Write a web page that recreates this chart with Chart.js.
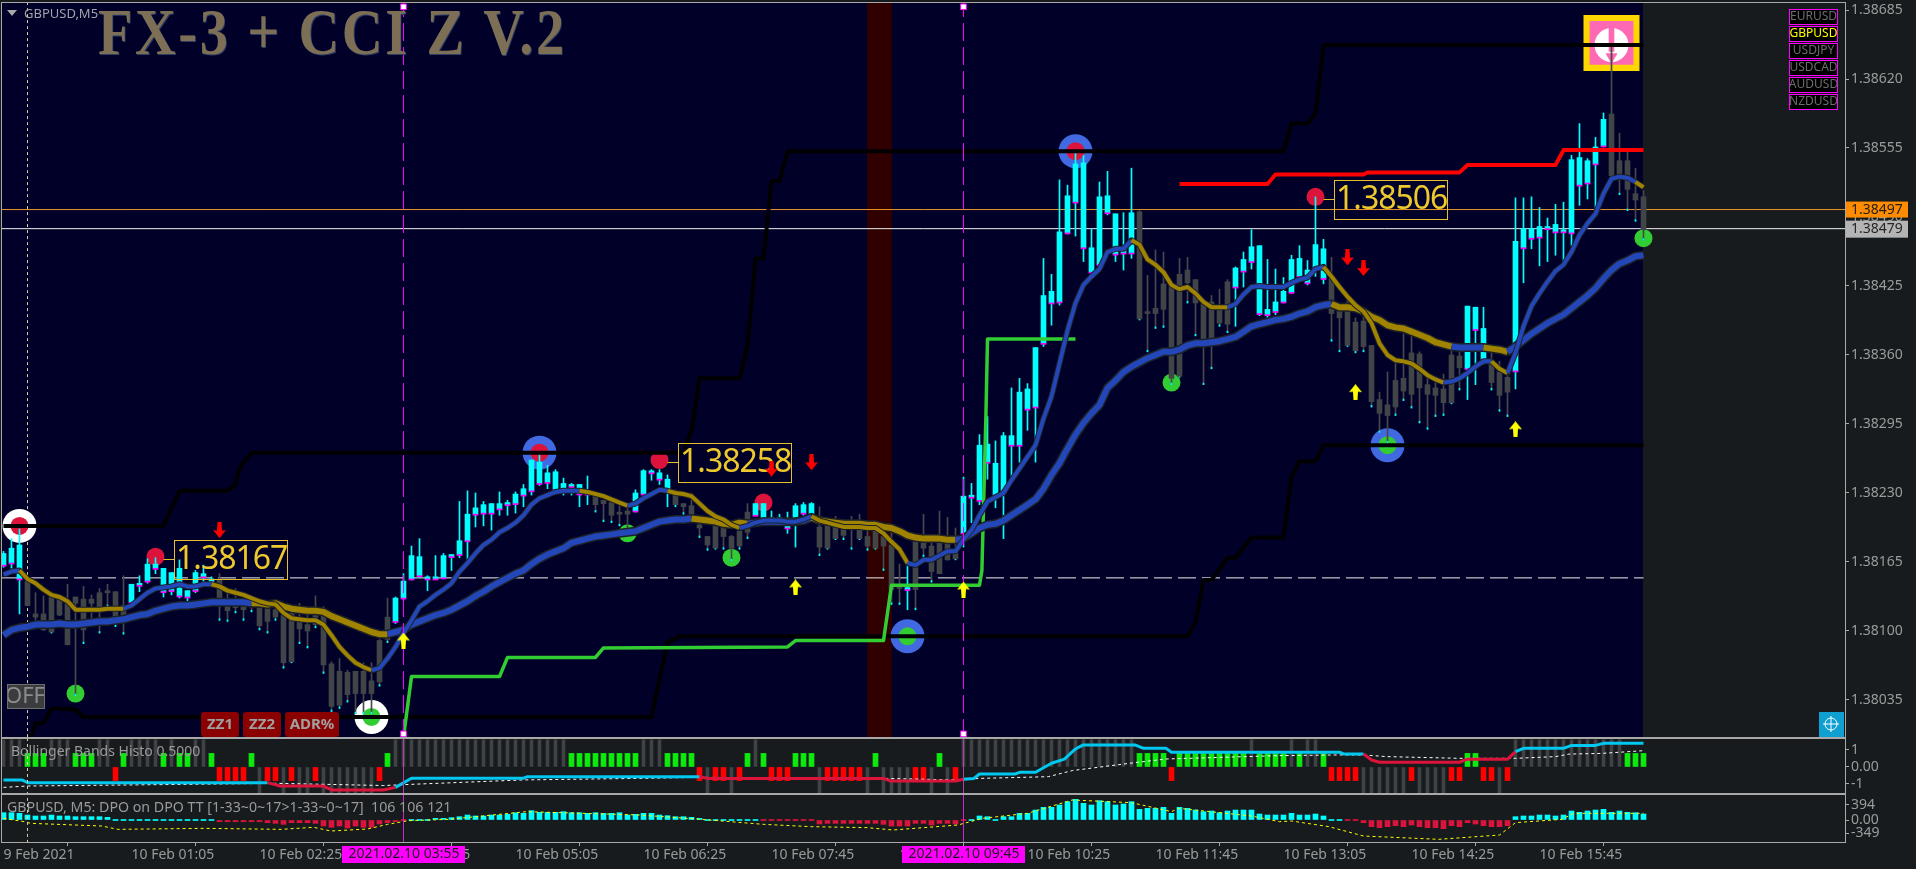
<!DOCTYPE html>
<html>
<head>
<meta charset="utf-8">
<title>GBPUSD,M5</title>
<script src="https://cdn.jsdelivr.net/npm/chart.js@4"></script>
<style>
html, body { margin: 0; background: #171b1e; overflow: hidden; }
canvas { position: absolute; left: 0; }
</style>
</head>
<body>
<canvas id="mainChart" width="1916" height="738" style="top:0"></canvas>
<canvas id="bbChart" width="1916" height="56" style="top:738px"></canvas>
<canvas id="dpoChart" width="1916" height="75" style="top:794px"></canvas>
<script>
// prices are points above 1.38000
const BASE = 138000;

const opens = [
  162,164,149,147,116,116,132,130,127,132, 130,130,136,137,137,124,127,143,147,159,
  137,138,133,132,138,151,146,149,123,123, 123,127,122,121,120,115,117,109,106,117,
  120,69,62,61,62,62,53,91,113,109, 131,149,152,149,149,150,170,172,185,210,
  211,211,215,219,220,228,232,239,240,233, 234,236,229,229,227,223,221,211,213,213,
  229,249,243,233,228,220,218,200,189,199, 198,189,194,212,209,206,205,205,197,206,
  211,209,198,206,198,198,201,197,189,194, 189,181,142,139,184,183,180,190,183,173,
  192,226,223,259,228,231,275,275,309,311, 371,409,410,475,504,461,438,445,494,455,
  456,456,495,400,404,427,426,436,440,431, 409,410,404,429,424,439,448,399,398,401,
  410,419,434,428,442,432,432,402,409,391, 392,369,318,313,336,338,362,361,332,329,
  328,360,359,347,384,356,354,344,339,345, 461,470,471,479,476,476,475,520,522,540,
  557,587,543,543,512,509];
const closes = [
  173,178,181,124,113,101,99,115,87,126, 101,126,123,136,113,115,144,144,163,163,
  159,155,159,138,155,154,149,131,119,122, 120,124,105,109,113,70,71,102,100,106,
  68,29,30,40,41,41,41,52,92,131, 147,171,170,151,151,171,172,185,210,216,
  219,220,220,221,229,234,261,259,249,250, 239,238,238,230,219,220,209,210,210,230,
  251,250,249,243,219,217,209,197,181,178, 189,178,180,193,220,220,206,205,198,218,
  219,220,179,178,187,190,198,187,180,178, 180,139,140,140,139,178,156,154,167,168,
  227,227,275,276,258,284,284,325,328,367, 416,420,476,510,540,541,461,509,510,493,
  459,494,394,399,399,403,338,340,428,409, 374,374,390,389,442,450,462,463,403,410,
  420,450,451,440,464,460,399,395,369,364, 368,316,305,303,311,326,323,329,323,322,
  315,315,348,406,405,385,334,322,325,467, 479,479,481,481,483,477,544,546,543,556,
  582,529,530,516,506,478];
const highs = [
  175,187,196,149,136,133,136,134,144,132, 142,134,140,144,137,152,144,152,168,169,
  159,155,167,138,157,162,151,154,140,140, 131,131,127,127,124,121,123,126,115,133,
  123,71,74,63,62,70,70,92,131,132, 154,180,187,152,171,173,172,222,232,230,
  222,220,231,223,231,238,261,266,256,252, 244,239,238,246,230,223,222,219,216,233,
  252,252,252,247,233,220,230,208,189,200, 198,190,195,220,220,220,213,210,212,220,
  221,221,217,206,208,205,208,210,201,203, 197,194,163,161,192,210,187,213,207,197,
  245,239,285,302,279,287,329,338,333,367, 451,436,525,520,550,548,479,523,533,493,
  494,536,496,435,459,457,426,451,452,431, 410,416,422,431,443,457,478,463,450,441,
  433,454,463,449,509,469,452,407,412,395, 398,369,325,344,352,380,378,363,340,340,
  342,365,365,406,405,405,362,354,344,508, 508,509,499,489,502,504,548,578,545,565,
  588,650,569,552,536,515];
const lows = [
  160,159,116,124,102,101,98,115,87,39, 88,105,98,123,104,97,124,137,145,154,
  132,134,131,127,136,145,143,110,109,117, 110,118,101,98,110,65,70,88,84,103,
  60,24,27,33,22,22,22,48,89,107, 129,148,150,138,149,149,157,169,167,198,
  199,195,209,209,211,217,228,237,234,233, 228,228,217,219,212,203,202,199,192,212,
  227,242,238,217,217,210,208,188,176,177, 177,166,177,187,209,205,205,205,192,179,
  209,208,171,177,186,186,177,186,176,177, 157,125,125,120,120,170,146,154,167,167,
  179,202,219,243,216,187,245,259,289,259, 368,388,407,474,472,448,437,444,492,448,
  440,451,393,363,385,386,332,339,409,378, 332,347,387,381,387,424,441,397,395,398,
  409,418,432,426,434,427,373,363,368,362, 363,311,287,277,303,317,310,296,290,302,
  303,314,327,318,332,351,327,307,302,328, 428,460,444,448,454,448,463,501,507,498,
  556,528,511,496,486,468];

// moving averages, one value per bar
const slowMa = [
  96,101,103,104,106,106,106,107,106,106, 107,108,109,109,110,111,113,115,116,119,
  121,123,124,124,125,126,127,127,127,127, 127,126,126,125,126,123,121,120,119,119,
  118,114,111,108,105,102,99,97,97,99, 101,106,109,112,115,117,120,124,128,133,
  137,142,146,150,154,157,163,168,172,175, 178,183,185,187,189,190,191,192,193,194,
  197,200,203,204,205,205,206,205,204,203, 201,200,202,201,202,203,203,203,203,203,
  204,207,204,203,202,201,201,201,200,200, 198,197,194,190,188,187,187,187,186,186,
  187,192,197,200,201,204,209,214,219,224, 234,247,258,272,285,296,305,313,329,336,
  344,349,353,357,360,363,363,365,369,371, 371,372,373,375,377,382,387,389,391,393,
  394,396,399,401,405,407,408,405,405,404, 401,396,393,388,386,385,382,379,376,372,
  370,368,367,367,367,367,366,365,363,368, 374,380,385,390,394,398,404,410,416,423,
  432,440,446,449,453,454];
const fastMa = [
  153,156,157,149,145,139,134,132,128,120, 120,120,120,121,121,121,124,130,136,140,
  141,142,144,142,142,144,144,142,138,136, 134,131,128,126,125,117,112,111,110,110,
  106,96,85,77,70,66,63,65,74,85, 98,110,123,128,134,139,145,156,164,173,
  181,186,193,197,202,209,219,225,228,231, 232,232,232,231,229,227,224,221,218,220,
  225,229,233,232,230,229,227,220,213,208, 205,200,197,199,202,204,204,204,203,203,
  205,208,204,202,200,198,198,198,197,197, 192,184,177,164,162,167,167,171,175,175,
  186,195,209,222,226,230,242,253,264,275, 300,321,352,383,409,426,434,441,457,460,
  460,468,464,450,445,438,426,422,424,418, 410,405,405,405,408,417,424,425,424,424,
  424,428,431,433,441,443,434,424,415,407, 401,390,371,360,355,354,352,347,341,337,
  334,335,338,343,349,354,354,347,343,362, 387,406,418,429,439,445,457,473,484,493,
  512,526,528,527,523,518];
const slowDown = [[31,48],[86,93],[101,119],[166,181],[185,188]];
const fastDown = [[2,15],[26,46],[72,78],[83,92],[101,113],[141,153],[165,180],[186,188],[204,205]];

// channel lines, bar then price
const upperBars = [0,20,22,28,29,29.6,31,85,86,87,92,93,94,95,96,97,98,160,161,163,164,165,205];
const upperVals = [199,199,232,232,238,255,268,268,289,338,338,368,451,451,524,524,552,552,578,578,588,652,652];
const lowerBars = [3.4,4,5,6,9,10,81,81.6,83,84.5,148,149,150,151,153,154,156,160,161,162,164,165,205];
const lowerVals = [0,13,13,27,26,19,19,41,89,95,95,108,148,148,169,169,188,188,245,260,260,275,275];
const greenBars = [50,51,62,63,74,75,98,99,110,111,122,122.3,122.5,122.8,123,134];
const greenVals = [0,57,57,75,75,84,85,91,91,143,143,157,216,302,375,375];
const redBars = [147,158,159,170,170.5,182,183,194,195,205];
const redVals = [521,521,530,530,532,532,539,539,553,553];

const askPrice = 497;
const bidPrice = 479;
const dashLevel = 150;
const bandBar = 109.5;
const markerLines = [50, 120];
const cursorBar = 3;

const blueRingBars = [67,113,134,173];
const blueRingVals = [268,95,552,275];
const blueRingCore = ['#dc143c','#32cd32','#dc143c','#32cd32'];
const whiteRingBars = [2,46];
const whiteRingVals = [199,19];
const whiteRingCore = ['#dc143c','#32cd32'];
const redDotBars = [19,82,95,164];
const redDotVals = [170,261,221,509];
const greenDotBars = [9,78,91,146,205];
const greenDotVals = [41,192,169,334,470];
const downArrowBars = [27,96,101,168,170];
const downArrowVals = [195,253,259,452,442];
const upArrowBars = [50,99,120,169,189];
const upArrowVals = [91,141,139,325,290];
const boxBars = [21.3,84.3,166.3];
const boxVals = [167,258,506];
const boxDotBars = [19,82,164];

const priceTicks = [685,620,555,490,425,360,295,230,165,100,35];
const timeBars = [0,16,32,48,64,80,96,112,128,144,160,176,192];
const timeLabels = ['9 Feb 2021','10 Feb 01:05','10 Feb 02:25','10 Feb 03:45','10 Feb 05:05','10 Feb 06:25',
  '10 Feb 07:45','10 Feb 09:05','10 Feb 10:25','10 Feb 11:45','10 Feb 13:05','10 Feb 14:25','10 Feb 15:45'];
const markerTags = ['2021.02.10 03:55','2021.02.10 09:45'];
const symbols = ['EURUSD','GBPUSD','USDJPY','USDCAD','AUDUSD','NZDUSD'];
const buttons = ['ZZ1','ZZ2','ADR%'];

// Bollinger histo: +-1.6 grey, +0.8 green, -0.8 red
const bbHisto = [
  1.6,1.6,1.6,.8,.8,.8,1.6,1.6,1.6,.8, .8,.8,1.6,1.6,-.8,.8,1.6,1.6,1.6,1.6,
  .8,1.6,.8,.8,1.6,1.6,.8,-.8,-.8,-.8, -.8,.8,-1.6,-.8,-.8,-1.6,-.8,-1.6,-1.6,-.8,
  -1.6,-1.6,-1.6,-1.6,-1.6,-1.6,-1.6,-.8,.8,1.6, 1.6,1.6,1.6,1.6,1.6,1.6,1.6,1.6,1.6,1.6,
  1.6,1.6,1.6,1.6,1.6,1.6,1.6,1.6,1.6,1.6, 1.6,.8,.8,.8,.8,.8,.8,.8,.8,.8,
  1.6,1.6,1.6,.8,.8,.8,.8,-.8,-1.6,-.8, -.8,-1.6,-.8,.8,1.6,.8,-.8,-.8,-.8,.8,
  .8,.8,-1.6,-.8,-.8,-.8,-.8,-.8,-1.6,.8, -1.6,-1.6,-1.6,-1.6,-.8,-.8,-1.6,.8,-1.6,-.8,
  1.6,1.6,1.6,1.6,1.6,1.6,1.6,1.6,1.6,1.6, 1.6,1.6,1.6,1.6,1.6,1.6,1.6,1.6,1.6,1.6,
  1.6,1.6,.8,.8,.8,.8,-.8,.8,.8,.8, .8,.8,.8,.8,.8,.8,1.6,.8,.8,.8,
  .8,1.6,.8,1.6,1.6,.8,-.8,-.8,-.8,-.8, -1.6,-1.6,-1.6,-1.6,-1.6,-1.6,-.8,-1.6,-1.6,-1.6,
  -1.6,-.8,-.8,.8,.8,-.8,-.8,-1.6,-.8,1.6, 1.6,1.6,1.6,1.6,1.6,1.6,1.6,1.6,1.6,1.6,
  1.6,1.6,1.6,.8,.8,.8];
const bbLineBars = [0,2.3,3,33,34.6,40,41,47.5,49,51,65,65.5,87,88,110,110.8,119,120,121.3,122,126.5,127,129,131,132.6,134,134.9,141.5,142.5,145.3,146,167,167.5,170,171,172,182,183,188,189,190,195,196,199,200,205];
const bbLineVals = [-.76,-.76,-.92,-.92,-1.12,-1.12,-1.35,-1.35,-1.2,-.66,-.66,-.57,-.57,-.67,-.67,-.82,-.82,-.72,-.67,-.41,-.41,-.31,-.31,.22,.46,1.06,1.29,1.29,1.1,1.1,.87,.87,.77,.77,.41,.28,.28,.46,.46,.9,1.1,1.1,1.27,1.27,1.39,1.39];
const bbRedRanges = [[33,49],[87,119.5],[170,188.5]];
const bbDotBars = [0,3,23,34,47.5,51,65,79.5,87,110,119,122,130.6,133.6,140.8,145.3,159.5,167,170,172.9,182,189,194,195.7,199.8,205];
const bbDotVals = [-1.2,-1.12,-1.02,-.96,-1.09,-1.02,-.76,-.67,-.61,-.67,-.76,-.67,-.57,-.21,.22,.47,.67,.71,.71,.61,.51,.51,.61,.76,.8,.96];

const dpoHisto = [
  192,192,175,131,105,105,131,105,105,87, 87,87,87,70,18,18,18,18,18,18,
  18,18,18,18,18,18,18,-44,-44,-44, -44,-44,-44,-70,-87,-114,-70,-70,-70,-87,
  -158,-192,-158,-210,-158,-192,-192,-105,-70,-44, -18,18,18,18,44,44,61,87,131,105,
  105,131,131,149,192,175,245,201,201,201, 219,192,192,175,192,175,175,192,131,149,
  175,175,131,114,87,87,70,44,18,18, 18,18,18,18,18,-18,-26,-26,-26,-18,
  -26,-26,-105,-87,-87,-87,-87,-87,-87,-87, -114,-158,-158,-158,-87,-87,-131,-87,-87,-105,
  -18,18,105,87,18,87,87,175,175,262, 332,332,394,481,542,437,394,507,481,394,
  420,481,280,306,306,332,175,332,306,262, 219,236,192,236,262,262,262,157,131,131,
  131,175,131,131,157,105,18,18,-18,-18, -70,-175,-201,-175,-149,-175,-131,-175,-201,-201,
  -227,-149,-175,-70,-105,-149,-175,-175,-149,87, 105,105,131,131,105,131,236,201,236,262,
  280,201,236,201,192,157];
const dpoLineBars = [0,2.6,3.4,12.3,14.3,25,34.7,38.8,40.9,45.5,48,50.6,55.7,65.4,79.5,86.7,95,101,108,111.2,119.3,122.4,128,133.6,141,146,146.9,156,159.5,161,165.7,170,179.4,187,189,194.8,196.3,205];
const dpoLineVals = [44,-44,-87,-158,-245,-219,-245,-192,-289,-236,-114,-18,18,219,131,26,-114,-175,-201,-262,-131,44,175,525,455,219,306,105,-44,-26,-175,-420,-507,-394,-70,18,175,175];
const dpoTicks = [394,0,-349];
const bbTicks = [1,0,-1];

const FONT = '"Noto Sans"';
const AXIS_GREY = '#9a9c9c';
const FRAME = '#a8a8a8';
const GOLD = '#a08400';
const BLUE = '#2347b8';
const OUTLINE = '#1d2128';
const PLOT_BG = '#000028';
const PINK = '#ff69b4';
const barCount = opens.length;
const xMin = -0.1875;
const xMax = 230.1875;

const pts = (xs, ys) => xs.map((x, i) => ({ x, y: ys[i] }));
const inRanges = (v, ranges) => ranges.some(r => v >= r[0] && v < r[1]);
const priceText = v => ((BASE + v) / 1e5).toFixed(5);

function lineSet(label, data, color, width, order, extra) {
  return Object.assign({ type: 'line', label, data, borderColor: color, borderWidth: width,
    pointRadius: 0, tension: 0, order, borderJoinStyle: 'round', fill: false }, extra);
}
function dotSet(xs, ys, color, radius, order, style) {
  return { type: 'line', showLine: false, data: pts(xs, ys), pointStyle: style || 'circle', pointRadius: radius,
    pointBackgroundColor: color, pointBorderWidth: 0, order };
}
function barSet(label, data, color, thickness, order, extra) {
  return Object.assign({ type: 'bar', label, data, backgroundColor: color, barThickness: thickness,
    grouped: false, borderWidth: 0, order }, extra);
}
function rows(test, low, high) {
  const out = [];
  for (let i = 0; i < barCount; i++) if (test(i)) out.push({ x: i, y: [low(i), high(i)] });
  return out;
}
function arrowImage(color, up) {
  const c = document.createElement('canvas');
  c.width = 13; c.height = 16;
  const g = c.getContext('2d');
  if (!up) { g.translate(0, 16); g.scale(1, -1); }
  g.fillStyle = color;
  g.beginPath();
  g.moveTo(6.5, 0); g.lineTo(13, 8); g.lineTo(9, 7.5); g.lineTo(8.5, 16); g.lineTo(4.5, 16); g.lineTo(4, 7.5); g.lineTo(0, 8);
  g.closePath(); g.fill();
  return c;
}
function yAxis(min, max, ticks, format) {
  return { position: 'right', min, max,
    grid: { display: true, drawOnChartArea: false, tickLength: 4, tickColor: FRAME },
    border: { display: true, color: FRAME },
    afterBuildTicks(s) { s.ticks = ticks.map(value => ({ value })); },
    afterFit(s) { s.width = 71; s.paddingTop = 0; s.paddingBottom = 0; },
    ticks: { color: AXIS_GREY, font: { family: FONT, size: 14 }, padding: 2, autoSkip: false, callback: format } };
}
const hiddenX = { type: 'linear', display: false, min: xMin, max: xMax, offset: false };

function text(ctx, s, x, y, font, color, align) {
  ctx.font = font; ctx.fillStyle = color; ctx.textAlign = align || 'left'; ctx.textBaseline = 'middle';
  ctx.fillText(s, x, y);
}
function plotBackground(color) {
  return { id: 'plotBackground', beforeDatasetsDraw(chart) {
    const a = chart.chartArea, x = chart.scales.x.getPixelForValue(barCount - 1) - 0.5;
    chart.ctx.fillStyle = color;
    chart.ctx.fillRect(a.left, a.top, x - a.left, a.bottom - a.top);
  } };
}
const frame = { id: 'frame', afterDraw(chart) {
  const a = chart.chartArea, ctx = chart.ctx;
  ctx.save();
  ctx.strokeStyle = FRAME; ctx.lineWidth = 1;
  ctx.strokeRect(a.left - 0.5, a.top - 0.5, a.right - a.left + 1, a.bottom - a.top + 1);
  ctx.restore();
} };

// title and the price boxes go under the red arrows
function drawBoxes(chart) {
  const ctx = chart.ctx, xs = chart.scales.x, ys = chart.scales.y;
  ctx.save();
  ctx.save();
  ctx.translate(98, 0);
  ctx.scale(0.855, 1);
  ctx.letterSpacing = '3px';
  text(ctx, 'FX-3 + CCI Z V.2', 1, 38, 'bold 66px "Liberation Serif"', '#2b3c66');
  text(ctx, 'FX-3 + CCI Z V.2', 0, 37, 'bold 66px "Liberation Serif"', '#7c6f56');
  ctx.restore();
  boxBars.forEach((bar, i) => {
    const left = Math.round(xs.getPixelForValue(bar)), y = Math.round(ys.getPixelForValue(boxVals[i]));
    ctx.strokeStyle = '#e6bf2a'; ctx.lineWidth = 1;
    ctx.strokeRect(left + 0.5, y - 19.5, 113, 39);
    ctx.beginPath();
    ctx.moveTo(xs.getPixelForValue(boxDotBars[i]) + 8, y - 0.5); ctx.lineTo(left, y - 0.5);
    ctx.stroke();
    ctx.letterSpacing = '-1px';
    text(ctx, priceText(boxVals[i]), left + 2, y, '32px ' + FONT, '#eec92e');
    ctx.letterSpacing = '0px';
  });
  ctx.restore();
}
const mainOverlay = { id: 'mainOverlay',
  beforeDatasetDraw(chart, args) {
    if (chart.data.datasets[args.index].label === 'downArrows') drawBoxes(chart);
  },
  afterDraw(chart) {
    const ctx = chart.ctx, ys = chart.scales.y;
    ctx.save();
    ctx.fillStyle = '#a8a8a8';
    ctx.beginPath(); ctx.moveTo(7, 10); ctx.lineTo(17, 10); ctx.lineTo(12, 16); ctx.closePath(); ctx.fill();
    text(ctx, 'GBPUSD,M5', 24, 14, '13px ' + FONT, '#a0a4a8');

    ctx.fillStyle = '#3a3c3e'; ctx.strokeStyle = '#6e6e6e';
    ctx.fillRect(7, 684, 37, 24); ctx.strokeRect(7.5, 684.5, 37, 24);
    ctx.save();
    ctx.beginPath(); ctx.rect(8, 685, 36, 23); ctx.clip();
    text(ctx, 'OFF', 5, 697, '22px ' + FONT, '#8c8c8c');
    ctx.restore();

    const btnX = [201, 243, 285], btnW = [38, 38, 54];
    buttons.forEach((b, i) => {
      ctx.fillStyle = '#8b0000';
      ctx.beginPath(); ctx.roundRect(btnX[i], 712, btnW[i], 25, 3); ctx.fill();
      text(ctx, b, btnX[i] + btnW[i] / 2, 725, 'bold 15px "Liberation Sans Narrow", ' + FONT, '#a0a0a0', 'center');
    });

    symbols.forEach((s, i) => {
      const y = 9 + i * 17;
      ctx.fillStyle = '#000000'; ctx.strokeStyle = '#ff00ff'; ctx.lineWidth = 1;
      ctx.fillRect(1789.5, y + 0.5, 48, 15); ctx.strokeRect(1789.5, y + 0.5, 48, 15);
      text(ctx, s, 1813.5, y + 8, '12px ' + FONT, s === 'GBPUSD' ? '#ffff00' : '#6c6c6c', 'center');
    });

    ctx.fillStyle = '#0f9fd0';
    ctx.fillRect(1819, 712, 25, 25);
    ctx.strokeStyle = '#ffffff'; ctx.lineWidth = 1;
    ctx.beginPath(); ctx.arc(1831, 724, 6, 0, Math.PI * 2);
    ctx.moveTo(1831, 716); ctx.lineTo(1831, 732); ctx.moveTo(1823, 724); ctx.lineTo(1839, 724);
    ctx.stroke();

    const tagY = [ys.getPixelForValue(askPrice), ys.getPixelForValue(bidPrice)];
    ctx.fillStyle = '#ff8c00'; ctx.fillRect(1846, tagY[0] - 8, 62, 16);
    text(ctx, priceText(askPrice), 1851, tagY[0], '14px ' + FONT, '#26201a');
    ctx.fillStyle = '#b4b4b4'; ctx.fillRect(1846, tagY[1] - 8, 62, 17);
    text(ctx, priceText(bidPrice), 1851, tagY[1], '14px ' + FONT, '#26262a');
    ctx.restore();
  } };

const bull = i => closes[i] >= opens[i];
const markerTops = [];
markerLines.forEach(b => { markerTops.push(b, b); });
const markerTopVals = [688, 3, 688, 3];

new Chart(document.getElementById('mainChart'), {
  type: 'bar',
  data: { datasets: [
    barSet('band', [{ x: bandBar, y: [0, 692] }], '#300000', 24, 100),
    lineSet('ask', pts([xMin, xMax], [askPrice, askPrice]), '#e8962a', 1, 90),
    lineSet('bid', pts([xMin, xMax], [bidPrice, bidPrice]), '#f0f0f0', 1, 90),
    lineSet('level', pts([xMin, barCount - 1], [dashLevel, dashLevel]), '#f0f0f0', 1, 89, { borderDash: [18, 6] }),
    lineSet('cursor', pts([cursorBar, cursorBar], [0, 692]), '#d9d0a8', 1, 88, { borderDash: [3, 3] }),
    dotSet([201], [654], '#ffd700', 39.6, 87, 'rect'),
    dotSet([201], [654], PINK, 31, 86, 'rect'),
    dotSet([201], [652], '#ffffff', 17, 85),
    barSet('signShaft', [{ x: 201, y: [646, 668] }], PINK, 5, 84),
    Object.assign(dotSet([201], [641], PINK, 7, 84, 'triangle'), { pointRotation: 180 }),
    dotSet(blueRingBars, blueRingVals, '#4169e1', 17, 82),
    dotSet(whiteRingBars, whiteRingVals, '#ffffff', 17, 82),
    dotSet(blueRingBars, blueRingVals, blueRingCore, 9, 81),
    dotSet(whiteRingBars, whiteRingVals, whiteRingCore, 9, 81),
    dotSet(redDotBars, redDotVals, '#dc143c', 9, 80),
    dotSet(greenDotBars, greenDotVals, '#32cd32', 9, 80),
    barSet('bearWick', rows(i => !bull(i), i => lows[i], i => highs[i]), '#46494c', 1, 72),
    barSet('bullWick', rows(bull, i => lows[i], i => highs[i]), '#00ffff', 1, 71),
    barSet('bearTip', rows(i => !bull(i), i => lows[i], i => lows[i] + 1.5), '#00ffff', 1, 70),
    barSet('bearBody', rows(i => !bull(i), i => closes[i], i => opens[i]), '#414548', 5, 69, { minBarLength: 2 }),
    barSet('bullBody', rows(bull, i => opens[i], i => closes[i]), '#00ffff', 5, 68, { minBarLength: 2 }),
    barSet('bullOpen', rows(bull, i => opens[i] - 1, i => opens[i]), '#ff00ff', 5, 67),
    lineSet('upper', pts(upperBars, upperVals), '#000000', 4, 50),
    lineSet('lower', pts(lowerBars, lowerVals), '#000000', 4, 50),
    lineSet('green', pts(greenBars, greenVals), '#32cd32', 3.5, 49),
    lineSet('red', pts(redBars, redVals), '#ff0000', 4, 49),
    lineSet('slowEdge', pts(slowMa.map((v, i) => i), slowMa), OUTLINE, 9, 45),
    lineSet('slow', pts(slowMa.map((v, i) => i), slowMa), BLUE, 6, 44, {
      segment: { borderColor: c => inRanges(c.p0.parsed.x, slowDown) ? GOLD : BLUE } }),
    lineSet('fastEdge', pts(fastMa.map((v, i) => i), fastMa), OUTLINE, 6, 43),
    lineSet('fast', pts(fastMa.map((v, i) => i), fastMa), BLUE, 4, 42, {
      segment: { borderColor: c => inRanges(c.p0.parsed.x, fastDown) ? GOLD : BLUE } }),
    lineSet('mark1', pts([markerLines[0], markerLines[0]], [0, 692]), '#ff00ff', 1, 30, { borderDash: [18, 6] }),
    lineSet('mark2', pts([markerLines[1], markerLines[1]], [0, 692]), '#ff00ff', 1, 30, { borderDash: [18, 6] }),
    Object.assign(dotSet(markerTops, markerTopVals, '#ffffff', 4, 29, 'rect'), { pointBorderWidth: 1, pointBorderColor: '#ff00ff' }),
    Object.assign(dotSet(upArrowBars, upArrowVals, 'transparent', 8, 20, arrowImage('#ffff00', true)), { label: 'upArrows' }),
    Object.assign(dotSet(downArrowBars, downArrowVals, 'transparent', 8, 19, arrowImage('#ff0000', false)), { label: 'downArrows' })
  ] },
  options: {
    responsive: false, animation: false, devicePixelRatio: 1, events: [],
    layout: { autoPadding: false, padding: { left: 2, top: 3, right: 0, bottom: 1 } },
    plugins: { legend: { display: false }, tooltip: { enabled: false } },
    scales: { x: hiddenX, y: yAxis(0.1, 691.6, priceTicks, priceText) }
  },
  plugins: [plotBackground(PLOT_BG), frame, mainOverlay]
});

new Chart(document.getElementById('bbChart'), {
  type: 'bar',
  data: { datasets: [
    barSet('grey', rows(i => Math.abs(bbHisto[i]) > 1, () => 0, i => bbHisto[i]), '#3f4144', 3, 20),
    barSet('green', rows(i => bbHisto[i] === 0.8, () => 0, i => bbHisto[i]), '#0de90d', 5, 19),
    barSet('red', rows(i => bbHisto[i] === -0.8, () => 0, i => bbHisto[i]), '#ff0000', 5, 19),
    lineSet('dots', pts(bbDotBars, bbDotVals), '#ffffff', 1, 12, { borderDash: [3, 3] }),
    lineSet('trend', pts(bbLineBars, bbLineVals), '#00c8f0', 3, 10, {
      segment: { borderColor: c => inRanges(c.p0.parsed.x, bbRedRanges) ? '#dc143c' : '#00c8f0' } }),
    lineSet('cursor', pts([cursorBar, cursorBar], [-2, 2]), '#d9d0a8', 1, 8, { borderDash: [3, 3] }),
    lineSet('mark1', pts([markerLines[0], markerLines[0]], [-2, 2]), '#b040b0', 1, 8),
    lineSet('mark2', pts([markerLines[1], markerLines[1]], [-2, 2]), '#b040b0', 1, 8)
  ] },
  options: {
    responsive: false, animation: false, devicePixelRatio: 1, events: [],
    layout: { autoPadding: false, padding: { left: 2, top: 1, right: 0, bottom: 1 } },
    plugins: { legend: { display: false }, tooltip: { enabled: false } },
    scales: { x: hiddenX, y: yAxis(-1.53, 1.647, bbTicks, v => v === 0 ? '0.00' : String(v)) }
  },
  plugins: [frame, { id: 'bbText', afterDatasetsDraw(chart) {
    text(chart.ctx, 'Bollinger Bands Histo 0.5000', 11, 14, '14px ' + FONT, '#9a9a9a');
  } }]
});

new Chart(document.getElementById('dpoChart'), {
  type: 'bar',
  data: { datasets: [
    barSet('up', rows(i => dpoHisto[i] > 0, () => 0, i => dpoHisto[i]), '#00ffff', 5, 20, { minBarLength: 1 }),
    barSet('down', rows(i => dpoHisto[i] < 0, () => 0, i => dpoHisto[i]), '#dc143c', 5, 20, { minBarLength: 1 }),
    lineSet('signal', pts(dpoLineBars, dpoLineVals), '#ffff00', 1, 10, { borderDash: [3, 3] }),
    lineSet('cursor', pts([cursorBar, cursorBar], [-600, 700]), '#d9d0a8', 1, 8, { borderDash: [3, 3] }),
    lineSet('mark1', pts([markerLines[0], markerLines[0]], [-600, 700]), '#d020d0', 1, 8),
    lineSet('mark2', pts([markerLines[1], markerLines[1]], [-600, 700]), '#d020d0', 1, 8)
  ] },
  options: {
    responsive: false, animation: false, devicePixelRatio: 1, events: [],
    layout: { autoPadding: false, padding: { left: 2, top: 1, right: 0, bottom: 0 } },
    plugins: { legend: { display: false }, tooltip: { enabled: false } },
    scales: {
      x: { type: 'linear', min: xMin, max: xMax, offset: false, position: 'bottom',
        grid: { display: true, drawOnChartArea: false, tickLength: 4, tickColor: FRAME },
        border: { display: false },
        afterBuildTicks(s) { s.ticks = timeBars.map(value => ({ value })); },
        afterFit(s) { s.height = 27; s.paddingLeft = 0; s.paddingRight = 0; },
        ticks: { align: 'start', autoSkip: false, maxRotation: 0, padding: 1, color: AXIS_GREY,
          font: { family: FONT, size: 14 }, callback: v => timeLabels[timeBars.indexOf(v)] } },
      y: yAxis(-577, 656, dpoTicks, v => v === 0 ? '0.00' : String(v))
    }
  },
  plugins: [frame, { id: 'dpoText', afterDraw(chart) {
    const ctx = chart.ctx, xs = chart.scales.x;
    text(ctx, 'GBPUSD, M5: DPO on DPO TT [1-33~0~17>1-33~0~17]  106 106 121', 7, 14, '14.2px ' + FONT, '#9a9a9a');
    markerLines.forEach((bar, i) => {
      const x = Math.round(xs.getPixelForValue(bar));
      ctx.fillStyle = '#ff00ff';
      ctx.fillRect(x - 62, 52, 123, 17);
      text(ctx, markerTags[i], x, 60.5, '14px ' + FONT, '#1c1c1c', 'center');
    });
  } }]
});
</script>
</body>
</html>
